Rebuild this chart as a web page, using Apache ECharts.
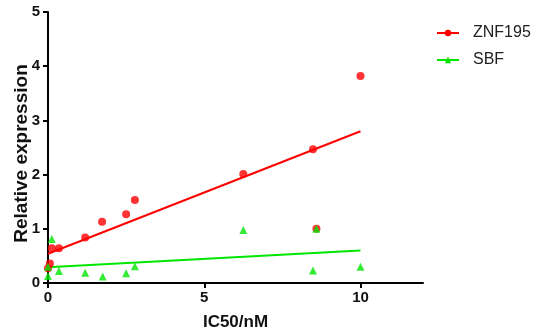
<!DOCTYPE html>
<html><head><meta charset="utf-8">
<script src="https://cdn.jsdelivr.net/npm/echarts@6/dist/echarts.min.js"></script>
<style>html,body{margin:0;padding:0;background:#fff}#c{width:533px;height:333px}</style>
</head><body><div id="c"></div>
<script>
const znfX = [0, 0.06, 0.12, 0.35, 1.19, 1.73, 2.5, 2.78, 6.25, 8.48, 8.59, 10.0];
const znfY = [0.27, 0.36, 0.64, 0.64, 0.84, 1.13, 1.27, 1.53, 2.01, 2.47, 1.0, 3.82];
const sbfX = [0, 0, 0.12, 0.35, 1.19, 1.75, 2.5, 2.78, 6.25, 8.59, 8.48, 10.0];
const sbfY = [0.13, 0.3, 0.81, 0.22, 0.19, 0.12, 0.18, 0.31, 0.98, 1.0, 0.23, 0.3];
const znfFitX = [0, 10];
const znfFitY = [0.54, 2.8];
const sbfFitX = [0, 10];
const sbfFitY = [0.29, 0.6];
const xTicks = [0, 5, 10];
const yTicks = [0, 1, 2, 3, 4, 5];

const pairs = (xs, ys) => xs.map((x, i) => [x, ys[i]]);
const RED = '#ff0000', GREEN = '#00e600';
const font = 'Liberation Sans, Arial, sans-serif';

const chart = echarts.init(document.getElementById('c'));
chart.setOption({
  animation: false,
  textStyle: { fontFamily: font },
  grid: { left: 48, right: 110, top: 12, bottom: 50, containLabel: false, outerBoundsMode: 'none' },
  legend: {
    data: ['ZNF195', 'SBF'],
    orient: 'vertical', left: 436, top: 25, itemGap: 11, padding: 0,
    itemWidth: 22, itemHeight: 8,
    textStyle: { fontSize: 16, color: '#222', fontFamily: font, padding: [0, 0, 0, 9] }
  },
  xAxis: {
    type: 'value', min: 0, max: 12, interval: 5,
    name: 'IC50/nM', nameLocation: 'middle', nameGap: 31, nameMoveOverlap: false,
    nameTextStyle: { fontSize: 17, fontWeight: 'bold', color: '#111' },
    axisLine: { onZero: false, lineStyle: { color: '#000', width: 2 } },
    axisTick: { show: true, length: 5, lineStyle: { width: 2, color: '#000' },
      customValues: xTicks },
    axisLabel: { fontSize: 15, fontWeight: 'bold', color: '#111', margin: 7,
      customValues: xTicks, formatter: v => xTicks.includes(v) ? String(v) : '' },
    splitLine: { show: false }
  },
  yAxis: {
    type: 'value', min: 0, max: 5, interval: 1,
    name: 'Relative expression', nameLocation: 'middle', nameGap: 17, nameMoveOverlap: false,
    nameTextStyle: { fontSize: 19, fontWeight: 'bold', color: '#111', padding: [0, 12, 0, 0] },
    axisLine: { show: true, onZero: false, lineStyle: { color: '#000', width: 2 } },
    axisTick: { show: true, length: 5, lineStyle: { width: 2, color: '#000' } },
    axisLabel: { fontSize: 15, fontWeight: 'bold', color: '#111', margin: 8,
      formatter: v => yTicks.includes(v) ? String(v) : '' },
    splitLine: { show: false }
  },
  series: [
    { name: 'ZNF195', type: 'line', data: pairs(znfFitX, znfFitY),
      symbol: 'circle', symbolSize: 7, showSymbol: false,
      lineStyle: { color: RED, width: 2 }, itemStyle: { color: RED }, z: 2 },
    { name: 'SBF', type: 'line', data: pairs(sbfFitX, sbfFitY),
      symbol: 'triangle', symbolSize: 7, showSymbol: false,
      lineStyle: { color: GREEN, width: 2 }, itemStyle: { color: GREEN }, z: 2 },
    { name: 'ZNF195', type: 'scatter', data: pairs(znfX, znfY),
      symbol: 'circle', symbolSize: 8, itemStyle: { color: RED }, z: 3 },
    { name: 'SBF', type: 'scatter', data: pairs(sbfX, sbfY),
      symbol: 'triangle', symbolSize: 8, itemStyle: { color: GREEN }, z: 4 }
  ]
});
</script></body></html>
